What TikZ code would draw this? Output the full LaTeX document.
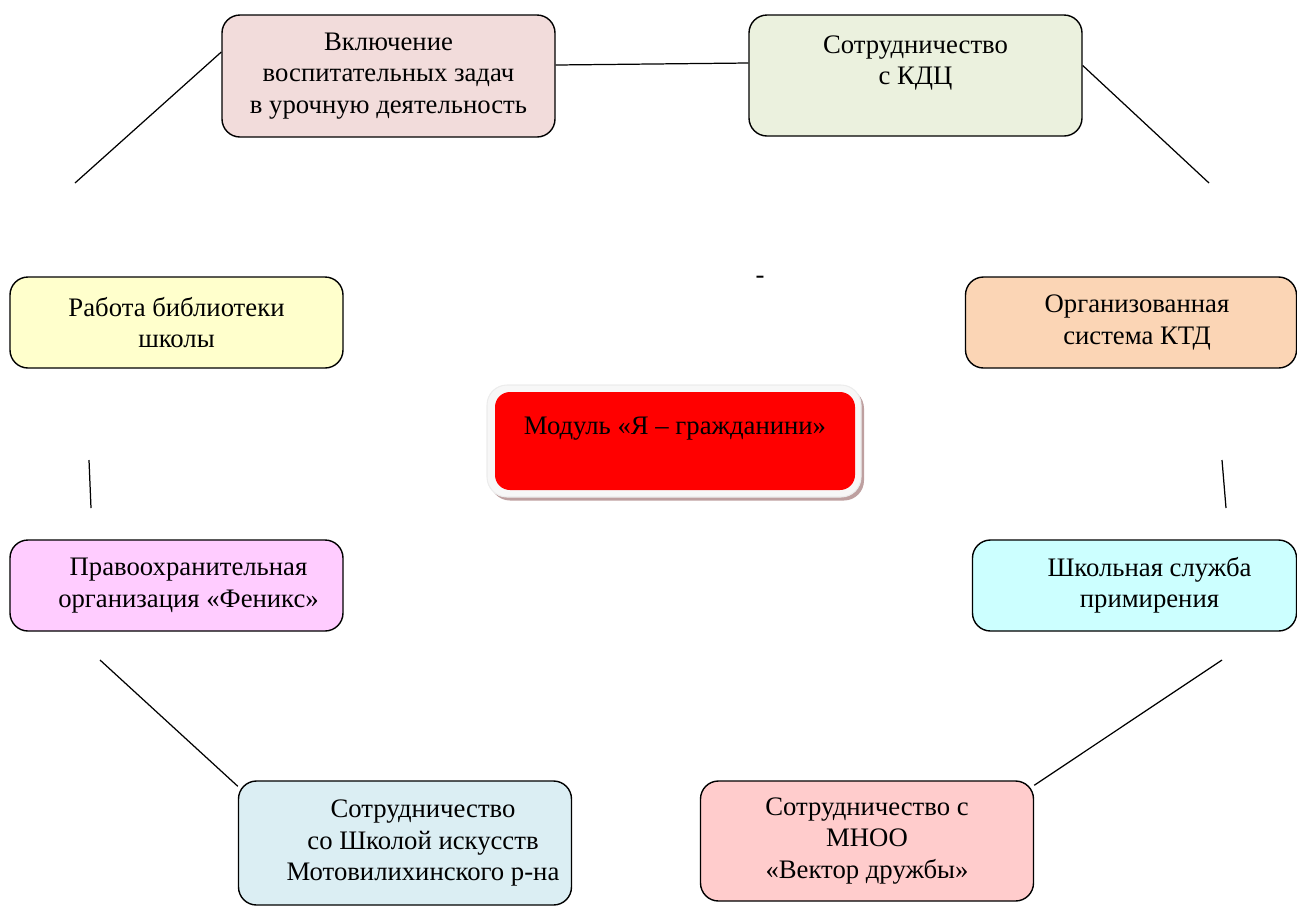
\documentclass[tikz,border=0pt]{standalone}
\usepackage{fontspec}
\setmainfont{Liberation Serif}
\usepackage{tikz}
\usetikzlibrary{shapes,positioning,shadows}
\usepackage{xcolor}
\definecolor{mgpink}{RGB}{242,220,219}
\definecolor{mggreen}{RGB}{235,241,222}
\definecolor{mgyellow}{RGB}{255,255,204}
\definecolor{mgorange}{RGB}{251,213,181}
\definecolor{mgviolet}{RGB}{255,204,255}
\definecolor{mgcyan}{RGB}{204,255,255}
\definecolor{mgblue}{RGB}{219,238,243}
\definecolor{mgrose}{RGB}{255,204,204}
\definecolor{mgshadow}{RGB}{190,160,160}
\tikzstyle{module} = [rectangle, rounded corners=0.36cm, minimum width=6.66cm, minimum height=1.82cm, align=center, draw=black, line width=0.8pt, font=\fontsize{15.2}{17.8}\selectfont]
\tikzstyle{centre} = [rectangle, rounded corners=0.3cm, minimum width=7.2cm, minimum height=1.96cm, align=center, fill=red, font=\fontsize{15.2}{17.8}\selectfont]
\tikzstyle{frame} = [rectangle, rounded corners=0.4cm, minimum width=7.48cm, minimum height=2.24cm, fill=gray!6, draw=gray!15, line width=0.6pt, drop shadow={shadow xshift=0.06cm, shadow yshift=-0.07cm, fill=mgshadow, opacity=1}]
\tikzstyle{link} = [line width=0.7pt, black]

\begin{document}
\begin{tikzpicture}
\useasboundingbox (0,0) rectangle (25.94,-18.26);
% Top row
\node (incl) [module, fill=mgpink, minimum height=2.44cm] at (7.77,-1.52) {Включение\\воспитательных задач\\в урочную деятельность};
\node (kdc) [module, fill=mggreen, minimum height=2.42cm] at (18.31,-1.51) {Сотрудничество\\с КДЦ\\ \mbox{}};

% Middle rows
\node (bibl) [module, fill=mgyellow] at (3.53,-6.45) {Работа библиотеки\\школы};
\node (ktd) [module, fill=mgorange, minimum width=6.62cm] at (22.62,-6.45) {\hspace*{0.24cm}Организованная\\\hspace*{0.24cm}система КТД};
\node (fenix) [module, fill=mgviolet] at (3.53,-11.71) {\hspace*{0.48cm}Правоохранительная\\\hspace*{0.48cm}организация «Феникс»};
\node (sluzh) [module, fill=mgcyan, minimum width=6.48cm] at (22.69,-11.71) {\hspace*{0.6cm}Школьная служба\\\hspace*{0.6cm}примирения};

% Bottom row
\node (shk) [module, fill=mgblue, minimum height=2.48cm] at (8.10,-16.86) {\hspace*{0.72cm}Сотрудничество\\\hspace*{0.72cm}со Школой искусств\\\hspace*{0.72cm}Мотовилихинского р-на};
\node (mnoo) [module, fill=mgrose, minimum height=2.40cm] at (17.34,-16.82) {Сотрудничество с\\МНОО\\«Вектор дружбы»};

% Centre
\node (modframe) [frame] at (13.48,-8.82) {};
\node (modul) [centre] at (13.5,-8.82) {Модуль «Я – гражданини»\\ \mbox{}};
\node (dash) [font=\fontsize{15.2}{17.8}\selectfont] at (15.2,-5.6) {-};

% Free line ends
\coordinate (c1) at (1.5,-3.66);
\coordinate (c2) at (24.18,-3.66);
\coordinate (c3a) at (1.78,-9.2);
\coordinate (c3b) at (1.82,-10.16);
\coordinate (c4a) at (24.44,-9.2);
\coordinate (c4b) at (24.52,-10.16);
\coordinate (c5) at (2.0,-13.2);
\coordinate (c6) at (24.44,-13.2);

% Lines
\draw[link] ([yshift=0.48cm]incl.west) -- (c1);
\draw[link] ([yshift=0.22cm]incl.east) -- ([yshift=0.25cm]kdc.west);
\draw[link] ([yshift=0.2cm]kdc.east) -- (c2);
\draw[link] (c3a) -- (c3b);
\draw[link] (c4a) -- (c4b);
\draw[link] (c5) -- ([yshift=-0.12cm]shk.north west);
\draw[link] (c6) -- ([yshift=-0.1cm]mnoo.north east);
\end{tikzpicture}
\end{document}
